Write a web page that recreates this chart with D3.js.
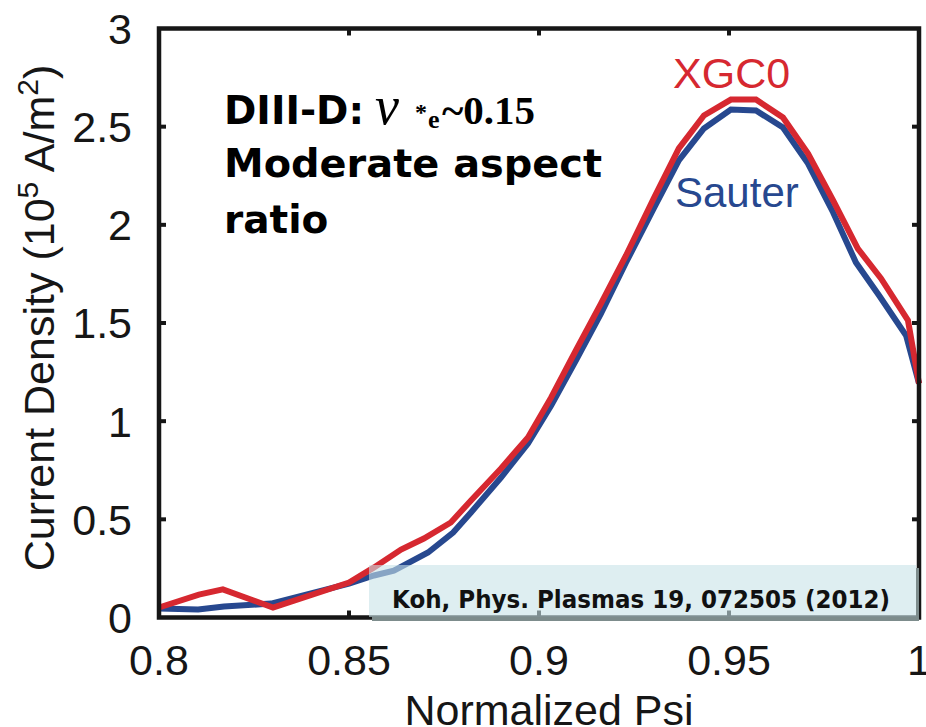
<!DOCTYPE html>
<html>
<head>
<meta charset="utf-8">
<script src="https://cdn.jsdelivr.net/npm/d3@7"></script>
<style>
  html, body { margin: 0; padding: 0; background: #fff; }
  svg { display: block; }
</style>
</head>
<body>
<svg id="chart" width="926" height="727"></svg>
<script>
// Bootstrap current density profiles vs normalized poloidal flux (DIII-D case)
const xgc0Psi = [0.8000, 0.8105, 0.8168, 0.8300, 0.8500, 0.8566, 0.8637, 0.8697, 0.8768, 0.8821,
                 0.8900, 0.8971, 0.9032, 0.9097, 0.9163, 0.9229, 0.9303, 0.9368, 0.9434, 0.9505,
                 0.9571, 0.9642, 0.9708, 0.9774, 0.9839, 0.9900, 0.9971, 1.0000];
const xgc0J   = [0.051, 0.117, 0.143, 0.051, 0.178, 0.255, 0.346, 0.402, 0.484, 0.596,
                 0.759, 0.917, 1.121, 1.360, 1.599, 1.844, 2.139, 2.389, 2.557, 2.638,
                 2.638, 2.547, 2.363, 2.124, 1.879, 1.727, 1.513, 1.192];

const sauterPsi = [0.8000, 0.8103, 0.8171, 0.8295, 0.8500, 0.8566, 0.8618, 0.8708, 0.8774, 0.8821,
                   0.8900, 0.8971, 0.9032, 0.9097, 0.9163, 0.9229, 0.9303, 0.9368, 0.9434, 0.9505,
                   0.9571, 0.9642, 0.9708, 0.9774, 0.9834, 0.9895, 0.9966, 1.0000];
const sauterJ   = [0.046, 0.041, 0.056, 0.071, 0.173, 0.214, 0.239, 0.331, 0.433, 0.535,
                   0.713, 0.886, 1.080, 1.309, 1.548, 1.808, 2.088, 2.328, 2.491, 2.587,
                   2.582, 2.496, 2.312, 2.063, 1.808, 1.640, 1.436, 1.192];

const xTicks = [0.8, 0.85, 0.9, 0.95, 1];
const xTickLabels = ["0.8", "0.85", "0.9", "0.95", "1"];
const yTicks = [0, 0.5, 1, 1.5, 2, 2.5, 3];
const yTickLabels = ["0", "0.5", "1", "1.5", "2", "2.5", "3"];

const RED = "#d62830";
const BLUE = "#27488f";
const INK = "#161616";

const svg = d3.select("#chart");
const L = 159, R = 919, T = 28.5, B = 617.5;

const x = d3.scaleLinear().domain([0.8, 1]).range([L, R]);
const y = d3.scaleLinear().domain([0, 3]).range([B, T]);

const axisFont = "'Liberation Sans', Arial, sans-serif";

// Curves
const line = d3.line().x(d => x(d[0])).y(d => y(d[1]));
const plot = svg.append("g");
plot.append("path")
  .datum(d3.zip(sauterPsi, sauterJ))
  .attr("d", line).attr("fill", "none")
  .attr("stroke", BLUE).attr("stroke-width", 6).attr("stroke-linejoin", "miter");
plot.append("path")
  .datum(d3.zip(xgc0Psi, xgc0J))
  .attr("d", line).attr("fill", "none")
  .attr("stroke", RED).attr("stroke-width", 6).attr("stroke-linejoin", "miter");

// Frame and inward ticks on all four sides
const frame = svg.append("g");
frame.append("rect")
  .attr("x", L).attr("y", T).attr("width", R - L).attr("height", B - T)
  .attr("fill", "none").attr("stroke", INK).attr("stroke-width", 4.5);

const tickLen = 7;
const innerX = xTicks.filter(v => v > 0.8 && v < 1);
const innerY = yTicks.filter(v => v > 0 && v < 3);
innerX.forEach(v => {
  frame.append("line").attr("x1", x(v)).attr("x2", x(v)).attr("y1", B).attr("y2", B - tickLen)
    .attr("stroke", INK).attr("stroke-width", 4);
  frame.append("line").attr("x1", x(v)).attr("x2", x(v)).attr("y1", T).attr("y2", T + tickLen)
    .attr("stroke", INK).attr("stroke-width", 4);
});
innerY.forEach(v => {
  frame.append("line").attr("x1", L).attr("x2", L + tickLen).attr("y1", y(v)).attr("y2", y(v))
    .attr("stroke", INK).attr("stroke-width", 4);
  frame.append("line").attr("x1", R).attr("x2", R - tickLen).attr("y1", y(v)).attr("y2", y(v))
    .attr("stroke", INK).attr("stroke-width", 4);
});

// Tick labels
const labels = svg.append("g").attr("font-family", axisFont).attr("font-size", 43).attr("fill", INK);
xTicks.forEach((v, i) => {
  labels.append("text").attr("x", x(v)).attr("y", 675)
    .attr("text-anchor", "middle").text(xTickLabels[i]);
});
yTicks.forEach((v, i) => {
  labels.append("text").attr("x", 132).attr("y", y(v)).attr("dy", "0.36em")
    .attr("text-anchor", "end").text(yTickLabels[i]);
});

// Axis titles
labels.append("text").attr("x", 549).attr("y", 725).attr("text-anchor", "middle").text("Normalized Psi");
const yTitle = labels.append("text")
  .attr("transform", "translate(54,318) rotate(-90)")
  .attr("text-anchor", "middle");
yTitle.append("tspan").text("Current Density (10");
yTitle.append("tspan").attr("font-size", 30).attr("dy", -16).text("5");
yTitle.append("tspan").attr("dy", 16).text(" A/m");
yTitle.append("tspan").attr("font-size", 30).attr("dy", -16).text("2");
yTitle.append("tspan").attr("dy", 16).text(")");

// Series labels
svg.append("text").attr("x", 673).attr("y", 88).attr("font-family", axisFont)
  .attr("font-size", 43).attr("fill", RED).text("XGC0");
svg.append("text").attr("x", 675).attr("y", 207).attr("font-family", axisFont)
  .attr("font-size", 42).attr("fill", BLUE).text("Sauter");

// Case description
const note = svg.append("g").attr("fill", "#000");
const boldSans = "'DejaVu Sans', sans-serif";
const serif = "'Liberation Serif', 'Times New Roman', serif";
note.append("text").attr("x", 224).attr("y", 124).attr("font-family", boldSans)
  .attr("font-weight", "bold").attr("font-size", 39).text("DIII-D:");
note.append("text").attr("x", 375).attr("y", 124).attr("font-family", serif)
  .attr("font-style", "italic").attr("font-size", 54).text("ν");
note.append("text").attr("x", 415).attr("y", 120).attr("font-family", serif)
  .attr("font-weight", "bold").attr("font-size", 24).text("*");
note.append("text").attr("x", 428).attr("y", 128).attr("font-family", serif)
  .attr("font-weight", "bold").attr("font-size", 26).text("e");
note.append("text").attr("x", 442).attr("y", 124).attr("font-family", serif)
  .attr("font-weight", "bold").attr("font-size", 41).text("~0.15");
note.append("text").attr("x", 224).attr("y", 177).attr("font-family", boldSans)
  .attr("font-weight", "bold").attr("font-size", 39)
  .attr("textLength", 378).attr("lengthAdjust", "spacingAndGlyphs").text("Moderate aspect");
note.append("text").attr("x", 224).attr("y", 233).attr("font-family", boldSans)
  .attr("font-weight", "bold").attr("font-size", 39).text("ratio");

// Reference box with a drop shadow along its lower and right edges
const ref = svg.append("g");
const bx = 369, by = 565, bw = 547, bh = 52;
ref.append("rect").attr("x", bx + 3).attr("y", by + bh).attr("width", bw).attr("height", 4)
  .attr("fill", "#7d8c8c");
ref.append("rect").attr("x", bx + bw).attr("y", by + 3).attr("width", 3).attr("height", bh + 1)
  .attr("fill", "#7d8c8c");
ref.append("rect").attr("x", bx).attr("y", by).attr("width", bw).attr("height", bh)
  .attr("fill", "rgb(200,226,232)").attr("fill-opacity", 0.6);
ref.append("text").attr("x", 392).attr("y", 608).attr("font-family", boldSans)
  .attr("font-weight", "bold").attr("font-size", 25).attr("fill", "#111")
  .attr("textLength", 498).attr("lengthAdjust", "spacingAndGlyphs")
  .text("Koh, Phys. Plasmas 19, 072505 (2012)");
</script>
</body>
</html>
